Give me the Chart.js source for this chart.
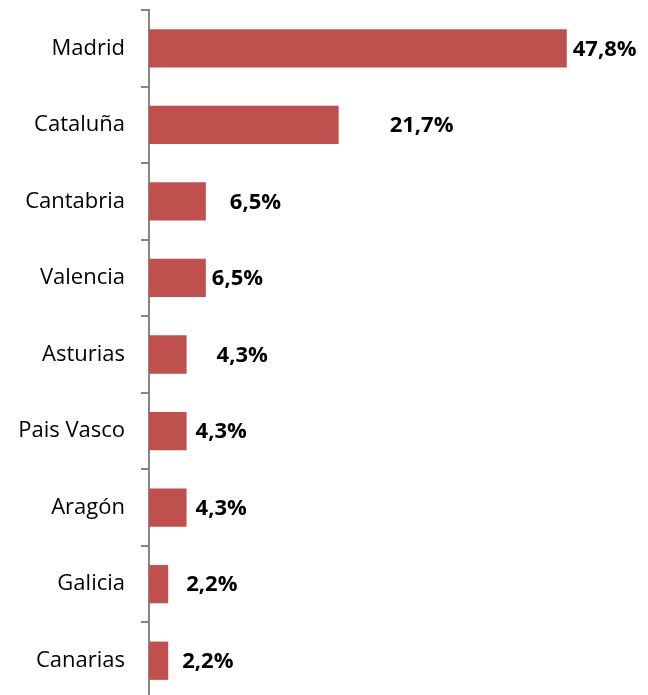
<!DOCTYPE html>
<html>
<head>
<meta charset="utf-8">
<script src="https://cdn.jsdelivr.net/npm/chart.js@4"></script>
<style>
  html, body { margin: 0; padding: 0; background: #fff; overflow: hidden; }
  .wrap { width: 648px; height: 699px; position: relative; }
</style>
</head>
<body>
<div class="wrap"><canvas class="bar-chart"></canvas></div>
<script>
const regions = ["Madrid", "Cataluña", "Cantabria", "Valencia", "Asturias", "Pais Vasco", "Aragón", "Galicia", "Canarias"];
const shares = [47.8, 21.7, 6.5, 6.5, 4.3, 4.3, 4.3, 2.2, 2.2];

// extra gap between bar end and its label, as Excel placed them
const labelGap = [6, 51, 24, 6, 30, 9, 9, 18, 14];

const valueLabels = {
    id: 'valueLabels',
    afterDatasetsDraw(chart) {
        const ctx = chart.ctx;
        const meta = chart.getDatasetMeta(0);
        ctx.save();
        ctx.font = 'bold 22px "Open Sans"';
        ctx.fillStyle = '#000';
        ctx.textBaseline = 'middle';
        ctx.textAlign = 'left';
        meta.data.forEach((bar, i) => {
            const txt = shares[i].toFixed(1).replace('.', ',') + '%';
            ctx.fillText(txt, bar.x + labelGap[i], bar.y + 1);
        });
        ctx.restore();
    }
};

const barChart = document.querySelector(".bar-chart");

new Chart(barChart, {
    type: 'bar',
    data: {
        labels: regions,
        datasets: [{
            data: shares,
            backgroundColor: '#C0504D',
            barPercentage: 0.5,
            categoryPercentage: 1,
        }],
    },
    options: {
        indexAxis: 'y',
        responsive: true,
        maintainAspectRatio: false,
        animation: false,
        layout: { padding: { top: 10, right: 62, bottom: 0, left: 0 } },
        plugins: { legend: { display: false }, tooltip: { enabled: false } },
        scales: {
            x: { display: false, min: 0, max: 50 },
            y: {
                afterFit(scale) {
                    scale.width = 149;
                    scale.paddingTop = 0;
                    scale.paddingBottom = 0;
                },
                border: { color: '#868686', width: 2 },
                grid: { drawOnChartArea: false, tickLength: 8, color: '#868686', lineWidth: 2, offset: true },
                ticks: { color: '#000', padding: 16, font: { family: 'Open Sans', size: 22 } },
            },
        },
    },
    plugins: [valueLabels],
});
</script>
</body>
</html>
